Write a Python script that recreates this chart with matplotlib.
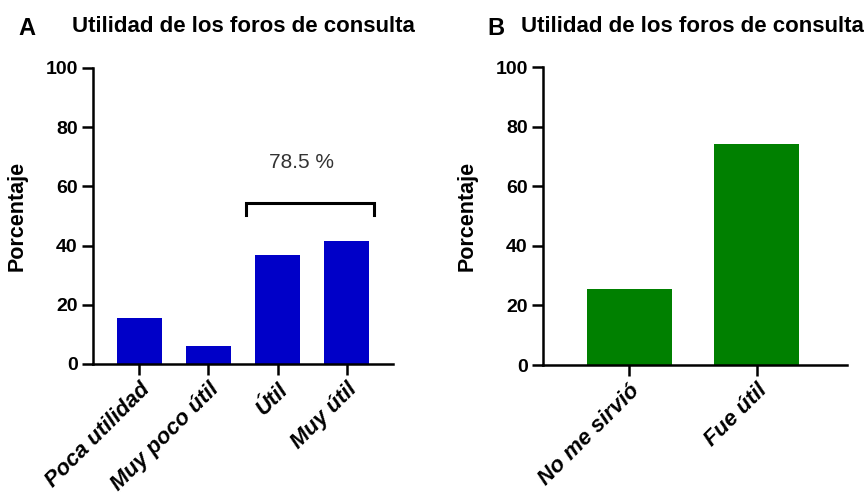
import matplotlib
matplotlib.use("Agg")
import matplotlib.pyplot as plt

# Panel A data
cats_a = ["Poca utilidad", "Muy poco útil", "Útil", "Muy útil"]
vals_a = [15.4, 6.1, 36.9, 41.6]
bracket_label = "78.5 %"

# Panel B data
cats_b = ["No me sirvió", "Fue útil"]
vals_b = [25.6, 74.0]

yticks = [0, 20, 40, 60, 80, 100]
title = "Utilidad de los foros de consulta"

plt.rcParams["font.family"] = ["Liberation Sans", "DejaVu Sans"]

fig = plt.figure(figsize=(8.67, 4.97), dpi=100)
ax_a = fig.add_axes([93 / 867, 1 - 364 / 497, 300 / 867, 296 / 497])
ax_b = fig.add_axes([543 / 867, 1 - 365 / 497, 304 / 867, 298 / 497])


def style_axis(ax, cats, xlim):
    for side in ["top", "right"]:
        ax.spines[side].set_visible(False)
    for side in ["left", "bottom"]:
        ax.spines[side].set_linewidth(1.8)
    ax.set_ylim(0, 100)
    ax.set_xlim(*xlim)
    ax.set_yticks(yticks)
    ax.set_yticklabels([str(t) for t in yticks], fontsize=14, fontweight="bold")
    ax.tick_params(axis="both", length=8, width=1.8, pad=3)
    ax.set_xticks(range(len(cats)))
    ax.set_xticklabels(cats, rotation=45, ha="right", va="top",
                       rotation_mode="anchor", fontsize=16,
                       fontweight="bold", style="italic")
    ax.set_ylabel("Porcentaje", fontsize=15.5, fontweight="bold", labelpad=13)


# Panel A
ax_a.bar(range(len(cats_a)), vals_a, width=0.66, color="#0000C8")
style_axis(ax_a, cats_a, (-0.67, 3.67))
# bracket over Útil + Muy útil
ax_a.plot([1.55, 1.55, 3.4, 3.4], [50.5, 54.5, 54.5, 50.5],
          color="black", lw=2.2, solid_joinstyle="miter", clip_on=False)
ax_a.text(2.35, 68, bracket_label, ha="center", va="center",
          fontsize=15, color="#333333")

# Panel B
ax_b.bar(range(len(cats_b)), vals_b, width=0.67, color="#008000")
style_axis(ax_b, cats_b, (-0.68, 1.71))

# titles and panel letters
fig.text(243 / 867, 1 - 32 / 497, title, ha="center", va="baseline",
         fontsize=16, fontweight="bold")
fig.text(18 / 867, 1 - 35 / 497, "A", ha="left", va="baseline",
         fontsize=17, fontweight="bold")
fig.text(692 / 867, 1 - 32 / 497, title, ha="center", va="baseline",
         fontsize=16, fontweight="bold")
fig.text(487 / 867, 1 - 35 / 497, "B", ha="left", va="baseline",
         fontsize=17, fontweight="bold")

fig.savefig("out.png", dpi=100)
